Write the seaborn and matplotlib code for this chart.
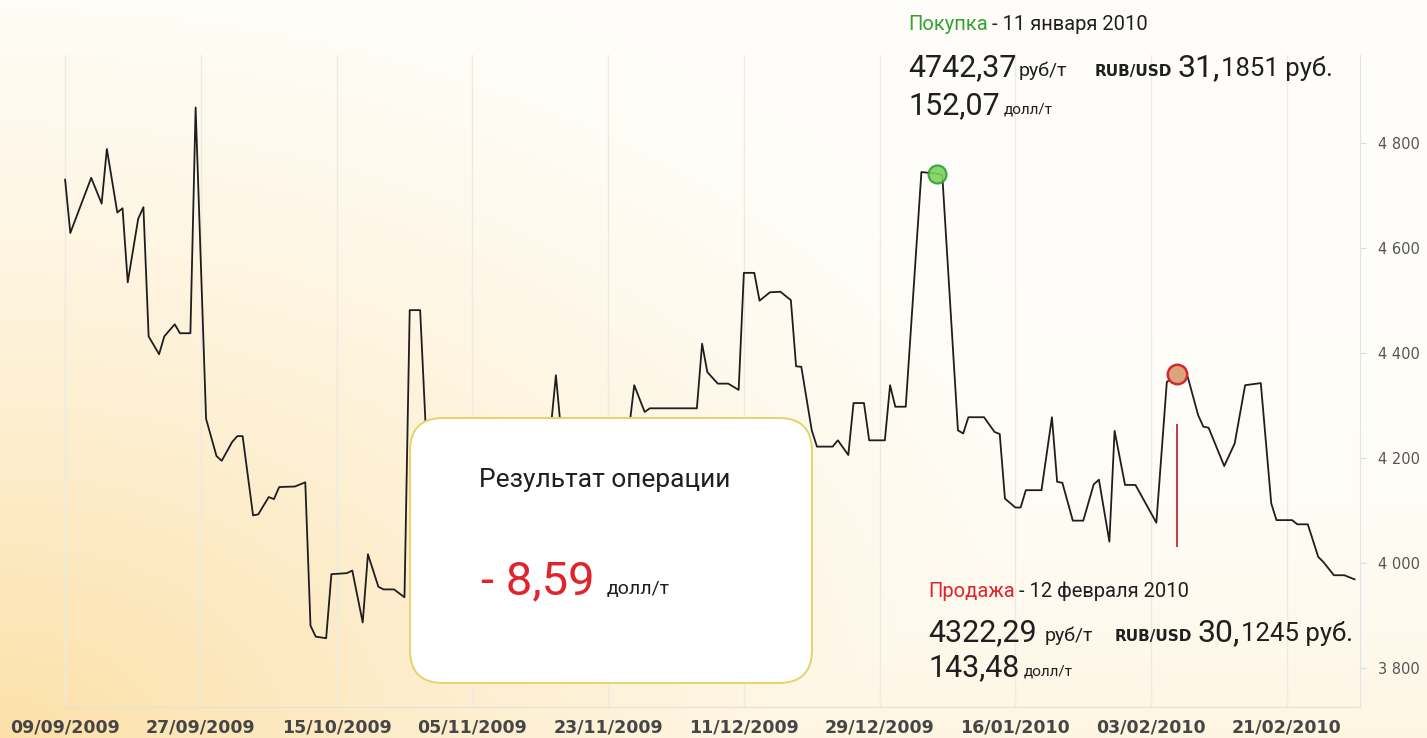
import numpy as np
import pandas as pd
import matplotlib
matplotlib.use('Agg')
import matplotlib.pyplot as plt
from matplotlib.patches import FancyBboxPatch
import seaborn as sns

# point index along the x axis and price, rub/t
idx = [0, 1, 5, 7, 8, 10, 11, 12, 14, 15, 16, 18, 19, 21, 22, 24, 25, 27, 29, 30,
       32, 33, 34, 36, 37, 39, 40, 41, 44, 46, 47, 48, 50, 51, 54, 55, 57, 58, 60, 61,
       63, 65, 66, 68, 69, 71, 73, 76, 79, 82, 85, 88, 91, 93, 94, 95, 98, 101, 104, 107,
       108, 109, 111, 112, 121, 122, 123, 125, 127, 129, 130, 132, 133, 135, 137, 139, 140, 141, 143, 144,
       147, 148, 150, 151, 153, 154, 157, 158, 159, 161, 164, 167, 168, 171, 172, 173, 176, 178, 179, 180,
       182, 183, 184, 187, 189, 190, 191, 193, 195, 197, 198, 200, 201, 203, 205, 208, 209, 211, 213, 215,
       217, 218, 219, 222, 224, 226, 229, 231, 232, 235, 236, 238, 240, 241, 243, 245, 247]
price = [4731, 4629, 4734, 4685, 4789, 4668, 4676, 4535, 4656, 4678, 4432, 4398, 4432, 4455, 4438, 4438, 4868, 4275, 4204, 4195,
         4231, 4242, 4242, 4091, 4093, 4126, 4122, 4145, 4146, 4154, 3881, 3860, 3857, 3979, 3981, 3986, 3887, 4017, 3955, 3950,
         3950, 3935, 4482, 4482, 4272, 4150, 4170, 4120, 4140, 4190, 4170, 4210, 4230, 4255, 4358, 4250, 4200, 4180, 4220, 4240,
         4255, 4339, 4288, 4295, 4295, 4418, 4364, 4342, 4342, 4330, 4553, 4553, 4500, 4516, 4517, 4501, 4375, 4374, 4253, 4222,
         4222, 4234, 4206, 4305, 4305, 4234, 4234, 4339, 4298, 4298, 4745, 4742, 4739, 4253, 4247, 4278, 4278, 4250, 4246, 4123,
         4106, 4106, 4139, 4139, 4278, 4155, 4153, 4081, 4081, 4150, 4159, 4041, 4252, 4149, 4149, 4095, 4077, 4345, 4361, 4355,
         4282, 4260, 4258, 4185, 4228, 4339, 4343, 4114, 4082, 4082, 4074, 4074, 4012, 4002, 3977, 3977, 3969]

tick_idx = [0, 26, 52, 78, 104, 130, 156, 182, 208, 234]
tick_labels = ['09/09/2009', '27/09/2009', '15/10/2009', '05/11/2009', '23/11/2009',
               '11/12/2009', '29/12/2009', '16/01/2010', '03/02/2010', '21/02/2010']
y_ticks = [3800, 4000, 4200, 4400, 4600, 4800]

buy_idx = 167
sell_idx = 213
sell_line = [4030, 4265]

df = pd.DataFrame({'idx': idx, 'price': price})

W, H = 1427, 738
sns.set_style('white')
plt.rcParams['font.family'] = ['Roboto', 'DejaVu Sans']

fig = plt.figure(figsize=(W / 100, H / 100), dpi=100)

# background gradient, peach in the lower left corner
yy, xx = np.mgrid[0:H, 0:W]
d = np.hypot(xx / W * 1.3, (H - yy) / H)
t = np.clip(1 - d / 1.15, 0, 1) ** 1.4
t = np.maximum(t, 0.3 * (yy / H) ** 4)
c0 = np.array([255, 254, 250]) / 255
c1 = np.array([252, 224, 168]) / 255
bg = c0 + (c1 - c0) * t[..., None]
fig.figimage(bg, 0, 0, zorder=0)

ax = fig.add_axes([63 / W, 1 - 707 / H, (1360 - 63) / W, (707 - 55) / H])
ax.set_facecolor('none')
ax.set_zorder(1)

sns.lineplot(data=df, x='idx', y='price', ax=ax, color='#1e1e1e', linewidth=1.3, zorder=3)

ax.set_xlim(-0.4, 248)
ax.set_ylim(3726, 4968)
ax.set_xticks(tick_idx)
ax.set_xticklabels(tick_labels, fontsize=12.5, fontweight='bold', color='#464646',
                   family='DejaVu Sans')
ax.set_yticks(y_ticks)
ax.set_yticklabels([f'{v:,}'.replace(',', ' ') for v in y_ticks], fontsize=10.5,
                   color='#555555', family='DejaVu Sans')
ax.yaxis.tick_right()
ax.tick_params(axis='y', length=4, width=0.8, color='#d8dce2', pad=9)
ax.tick_params(axis='x', length=0, pad=8)
for x in tick_idx:
    ax.axvline(x, color='#ecebe2', linewidth=1, zorder=1)
for s in ['top', 'left']:
    ax.spines[s].set_visible(False)
ax.spines['right'].set_color('#dfe3ea')
ax.spines['bottom'].set_color('#e4e1d6')
ax.set_xlabel('')
ax.set_ylabel('')

# buy / sell points
pser = df.set_index('idx')['price']
ax.plot(buy_idx, pser[buy_idx], 'o', ms=13, mfc='#7bd35c', mec='#2f9e34', mew=1.5,
        alpha=0.9, zorder=5)
ax.plot(sell_idx, pser[sell_idx], 'o', ms=14, mfc='#d9a47e', mec='#d8262e', mew=1.8, zorder=5)
ax.vlines(sell_idx, sell_line[0], sell_line[1], color='#c8283a', linewidth=1.3, zorder=4)

# result box
box = FancyBboxPatch((410 / 100, (H - 683) / 100), 402 / 100, 265 / 100,
                     boxstyle='round,pad=0,rounding_size=0.33',
                     transform=fig.dpi_scale_trans, facecolor='white',
                     edgecolor='#e6d36a', linewidth=1.4, zorder=6)
fig.patches.append(box)

renderer = fig.canvas.get_renderer()


def put(x, y, s, size, color='#1f1f1f', weight='normal', family=None, ha='left'):
    kw = {}
    if family:
        kw['family'] = family
    txt = fig.text(x / W, 1 - y / H, s, fontsize=size, color=color, fontweight=weight,
                   ha=ha, va='baseline', zorder=10, **kw)
    return txt.get_window_extent(renderer).x1


def row(x, y, segs):
    # segs: (gap before, text, size, extra kwargs)
    for gap, s, size, kw in segs:
        x = put(x + gap, y, s, size, **kw)


green = '#35a231'
red = '#e0242c'
cap = dict(weight='bold', family='DejaVu Sans')

put(605, 487, 'Результат операции', 19, ha='center')
row(481, 594, [(0, '- 8,59', 34, dict(color=red)), (12, 'долл/т', 14, {})])

row(908, 30, [(0, 'Покупка', 14.5, dict(color=green)), (4, '- 11 января 2010', 14.5, {})])
row(908, 76, [(0, '4742,37', 22, {}), (2, 'руб/т', 14, {}), (28, 'RUB/USD', 11, cap),
              (5, '31,', 23, {}), (1, '1851 руб.', 18.5, {})])
row(908, 114, [(0, '152,07', 22, {}), (4, 'долл/т', 11, {})])

row(928, 597, [(0, 'Продажа', 14.5, dict(color=red)), (4, '- 12 февраля 2010', 14.5, {})])
row(928, 641, [(0, '4322,29', 22, {}), (8, 'руб/т', 14, {}), (22, 'RUB/USD', 11, cap),
               (5, '30,', 23, {}), (1, '1245 руб.', 18.5, {})])
row(928, 676, [(0, '143,48', 22, {}), (4, 'долл/т', 11, {})])

fig.savefig('out.png', dpi=100)
